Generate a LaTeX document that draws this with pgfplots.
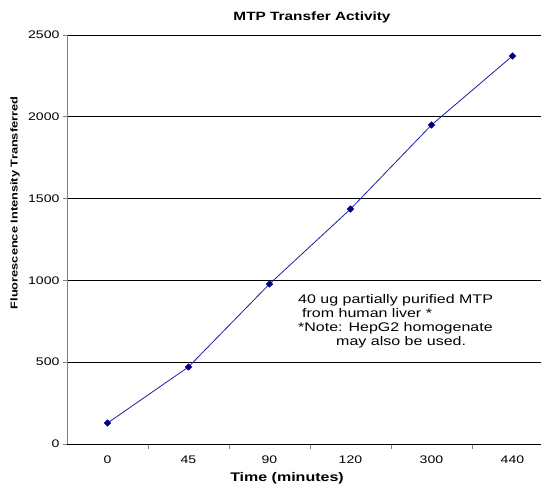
\documentclass[border=0pt]{standalone}
\usepackage{fontspec}
\setmainfont[FakeStretch=1.28]{Liberation Sans}
\usepackage{pgfplots}
\pgfplotsset{compat=1.18}
\definecolor{navy}{RGB}{0,0,128}
\definecolor{linec}{RGB}{30,30,160}
\begin{document}
\begin{tikzpicture}
\useasboundingbox (-67pt,-41pt) rectangle (474pt,444pt);
\begin{axis}[
  at={(0pt,0pt)}, anchor=south west,
  scale only axis, width=474pt, height=409pt,
  xmin=-0.5, xmax=5.352, ymin=0, ymax=2500,
  axis x line*=bottom, axis y line*=left,
  x axis line style={black, line width=0.8pt},
  y axis line style={gray, line width=0.8pt},
  ytick={0,500,1000,1500,2000,2500},
  ymajorgrids, grid style={black, line width=0.7pt},
  xtick={0,1,2,3,4,5}, xticklabels={0,45,90,120,300,440},
  major x tick style={draw=none},
  minor xtick={0.5,1.5,2.5,3.5,4.5},
  minor x tick style={gray, line width=0.8pt},
  y tick style={gray, line width=0.8pt},
  tick align=outside, major tick length=4pt, minor tick length=5pt,
  tick label style={font=\fontsize{11}{13}\selectfont},
  /pgf/number format/assume math mode=true,
  scaled y ticks=false,
  yticklabel style={/pgf/number format/1000 sep={}},
  xticklabel style={yshift=-4pt},
  clip=false,
]
\addplot[linec, line width=0.8pt, mark=square*, mark size=2.2pt, mark options={navy, fill=navy, rotate=45}]
  coordinates {(0,128) (1,471) (2,978) (3,1436) (4,1950) (5,2372)};
\end{axis}
\node[font=\bfseries\fontsize{12}{14}\selectfont] at (245pt,427pt) {MTP Transfer Activity};
\node[font=\bfseries\fontsize{12.5}{14}\selectfont] at (220pt,-34pt) {Time (minutes)};
\node[font=\bfseries\fontsize{10}{12}\selectfont, rotate=90] at (-52pt,241pt) {Fluorescence Intensity Transferred};
\node[anchor=north west, inner sep=0pt, align=left, font=\fontsize{12.5}{14}\selectfont] at (231pt,150pt)
  {40 ug partially purified MTP\\
   \hspace*{4pt}from human liver *\\
   *Note: HepG2 homogenate\\
   \hspace*{38pt}may also be used.};
\end{tikzpicture}
\end{document}
